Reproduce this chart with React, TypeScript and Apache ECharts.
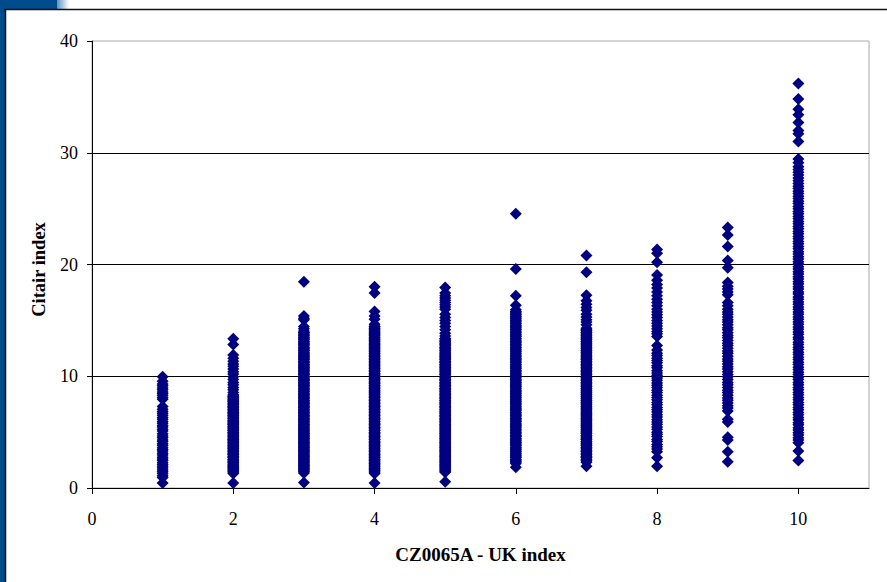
import React, { useEffect, useRef } from "react";
import * as echarts from "echarts";

const xTicks = [0, 2, 4, 6, 8, 10];
const xAxisTitle = "CZ0065A - UK index";
const yAxisTitle = "Citair index";

const col1 = [0.45,0.95,1.1,1.3,1.45,1.6,1.8,1.95,2.1,2.25,2.45,2.6,2.75,2.95,3.1,3.3,3.45,3.6,3.8,3.95,4.15,4.3,4.5,4.65,4.85,5.1,5.25,5.45,5.6,5.8,5.95,6.15,6.3,6.5,6.7,6.85,7.05,7.3,7.95,8.1,8.3,8.45,8.6,8.8,8.95,9.15,9.3,9.55,9.95];
const col2 = [0.45,1.3,1.4,1.55,1.7,1.85,1.95,2.1,2.3,2.4,2.55,2.7,2.85,3,3.1,3.25,3.4,3.55,3.7,3.8,3.95,4.1,4.25,4.35,4.5,4.65,4.8,4.95,5.1,5.2,5.35,5.5,5.65,5.8,5.9,6.05,6.2,6.35,6.5,6.65,6.75,6.9,7.05,7.2,7.3,7.45,7.6,7.75,7.9,8.05,8.2,8.35,8.55,8.8,9,9.25,9.45,9.7,9.95,10.2,10.4,10.65,10.9,11.1,11.35,11.6,11.9,12.85,13.35];
const col3 = [0.5,1.35,1.45,1.6,1.7,1.85,2,2.1,2.25,2.4,2.5,2.65,2.8,2.9,3.05,3.2,3.3,3.45,3.6,3.7,3.85,4,4.1,4.25,4.4,4.5,4.65,4.8,4.9,5.05,5.2,5.3,5.45,5.6,5.7,5.85,6,6.1,6.25,6.4,6.5,6.65,6.8,6.9,7.05,7.2,7.3,7.45,7.6,7.7,7.85,8,8.1,8.25,8.4,8.5,8.65,8.8,8.9,9.05,9.2,9.3,9.45,9.6,9.7,9.85,10,10.15,10.3,10.45,10.6,10.75,10.9,11.05,11.2,11.35,11.5,11.65,11.8,11.95,12.1,12.3,12.45,12.6,12.8,12.95,13.1,13.3,13.5,13.7,13.9,14.05,14.25,14.45,15.05,15.2,15.4,18.45];
const col4 = [0.45,1.3,1.4,1.55,1.7,1.8,1.95,2.1,2.2,2.35,2.5,2.6,2.75,2.9,3,3.15,3.3,3.4,3.55,3.7,3.8,3.95,4.1,4.2,4.35,4.5,4.6,4.75,4.9,5,5.15,5.3,5.4,5.55,5.7,5.8,5.95,6.1,6.2,6.35,6.5,6.6,6.75,6.9,7,7.15,7.3,7.4,7.55,7.7,7.8,7.95,8.1,8.2,8.35,8.5,8.6,8.75,8.9,9,9.15,9.3,9.4,9.55,9.7,9.8,9.95,10.1,10.25,10.4,10.55,10.7,10.85,11,11.15,11.3,11.45,11.6,11.75,11.9,12.05,12.2,12.35,12.5,12.65,12.8,12.95,13.15,13.3,13.5,13.7,13.85,14.05,14.25,14.45,14.65,15.1,15.4,15.8,17.45,18];
const col5 = [0.55,1.4,1.55,1.7,1.85,2,2.1,2.25,2.4,2.5,2.65,2.8,2.9,3.05,3.2,3.3,3.45,3.6,3.7,3.85,4,4.1,4.25,4.4,4.5,4.65,4.8,4.9,5.05,5.2,5.3,5.45,5.6,5.7,5.85,6,6.1,6.25,6.4,6.5,6.65,6.8,6.9,7.05,7.2,7.3,7.45,7.6,7.7,7.85,8,8.1,8.25,8.4,8.5,8.65,8.8,8.9,9.05,9.2,9.3,9.45,9.6,9.7,9.85,10,10.15,10.3,10.45,10.6,10.75,10.9,11.05,11.2,11.35,11.5,11.65,11.8,11.95,12.1,12.3,12.45,12.6,12.8,12.95,13.15,13.35,13.6,13.85,14.15,14.45,14.75,15,15.25,15.55,16,16.2,16.4,16.6,16.8,17,17.2,17.45,17.95];
const col6 = [1.85,2.2,2.4,2.55,2.75,2.9,3.1,3.25,3.45,3.6,3.8,3.95,4.1,4.25,4.45,4.6,4.75,4.95,5.1,5.25,5.45,5.6,5.75,5.95,6.1,6.25,6.45,6.6,6.75,6.95,7.1,7.25,7.45,7.6,7.75,7.95,8.1,8.25,8.45,8.6,8.75,8.95,9.1,9.25,9.45,9.6,9.75,9.95,10.1,10.3,10.5,10.7,10.85,11.05,11.25,11.45,11.6,11.8,12,12.2,12.4,12.6,12.8,13,13.15,13.35,13.55,13.75,13.95,14.15,14.35,14.55,14.75,14.95,15.15,15.35,15.55,15.75,15.95,16.35,17.2,19.6,24.55];
const col7 = [1.95,2.3,2.5,2.7,2.85,3.05,3.25,3.4,3.6,3.8,3.95,4.15,4.35,4.5,4.7,4.9,5.05,5.25,5.45,5.6,5.8,6,6.15,6.35,6.55,6.7,6.9,7.1,7.25,7.45,7.65,7.8,8,8.2,8.35,8.55,8.75,8.9,9.1,9.3,9.45,9.65,9.85,10,10.2,10.4,10.55,10.75,10.95,11.1,11.3,11.5,11.7,11.9,12.1,12.3,12.5,12.7,12.9,13.1,13.3,13.5,13.7,13.9,14.1,14.3,14.6,14.85,15.05,15.3,15.55,15.9,16.15,16.45,16.75,17.25,19.3,20.8];
const col8 = [1.95,2.7,3.25,3.5,3.7,3.9,4.15,4.35,4.6,4.8,5,5.25,5.45,5.7,5.9,6.1,6.35,6.55,6.8,7,7.2,7.45,7.65,7.9,8.1,8.3,8.55,8.75,9,9.2,9.4,9.65,9.85,10.1,10.3,10.5,10.75,10.95,11.2,11.4,11.6,11.85,12.05,12.35,12.75,13.55,13.8,14,14.25,14.5,14.75,15,15.25,15.5,15.75,16,16.3,16.6,16.9,17.2,17.55,17.9,18.2,18.6,19.05,20.2,21,21.35];
const col9 = [2.35,3.25,4.3,4.55,5.9,6.15,6.9,7.15,7.35,7.6,7.85,8.05,8.3,8.55,8.75,9,9.25,9.45,9.7,9.95,10.15,10.4,10.65,10.85,11.1,11.35,11.55,11.8,12.05,12.25,12.5,12.75,12.95,13.2,13.45,13.65,13.9,14.15,14.35,14.6,14.85,15.05,15.3,15.55,15.75,16,16.3,16.6,17.3,17.55,17.8,18.05,18.4,19.7,20.35,21.6,22.65,23.3];
const col10 = [2.45,3.3,4.05,4.3,4.5,4.75,4.95,5.2,5.4,5.65,5.85,6.1,6.3,6.55,6.75,7,7.2,7.45,7.65,7.9,8.1,8.35,8.55,8.8,9,9.25,9.45,9.7,9.9,10.15,10.35,10.6,10.8,11.05,11.25,11.5,11.7,11.95,12.15,12.4,12.6,12.85,13.05,13.3,13.5,13.75,13.95,14.2,14.4,14.65,14.85,15.1,15.3,15.55,15.75,16,16.2,16.45,16.65,16.9,17.1,17.35,17.55,17.8,18,18.25,18.45,18.7,18.9,19.15,19.35,19.6,19.8,20.05,20.25,20.5,20.7,20.95,21.15,21.4,21.6,21.85,22.05,22.3,22.5,22.75,22.95,23.2,23.4,23.65,23.85,24.1,24.3,24.55,24.75,25,25.2,25.45,25.65,25.9,26.1,26.35,26.55,26.8,27,27.25,27.5,27.75,28,28.25,28.5,28.75,29.1,29.45,31,31.7,32,32.7,33.4,33.9,34.8,36.2];

// Extra readings inside the solid part of the columns, where single marks merge.
const solidBand = [1.5,1.63,1.77,1.9,2.04,2.17,2.31,2.44,2.58,2.72,2.85,2.98,3.12,3.26,3.38,3.52,3.65,3.79,3.92,4.06,4.19,4.33,4.46,4.6,4.73,4.87,5,5.14,5.27,5.41,5.54,5.68,5.81,5.95,6.08,6.22,6.35,6.49,6.62,6.76,6.89,7.03,7.16,7.3,7.43,7.57,7.7,7.84,7.97,8.11,8.24,8.38,8.51,8.65,8.78,8.92,9.05,9.19,9.32,9.46,9.59,9.73,9.86,10,10.13,10.27,10.4,10.54,10.67,10.81,10.94,11.08,11.21,11.35,11.48,11.62,11.75,11.89,12.02,12.16,12.29,12.43,12.56,12.7,12.83,12.97,13.1,13.24,13.37,13.51,13.64,13.78,13.91,14.05,14.18,14.32,14.45,14.59,14.72,14.86,14.99,15.13,15.26,15.4,15.53,15.67,15.8];
const solidRanges: (number[] | null)[] = [null, [1.4, 8.3], [1.4, 14], [1.4, 14.5], [1.5, 13.5], [2.3, 15.8], [2.4, 14.2], null, null, null];

const columns = [col1, col2, col3, col4, col5, col6, col7, col8, col9, col10];

export default function App() {
  const ref = useRef<HTMLDivElement>(null);
  useEffect(() => {
    document.body.style.margin = "0";
    const chart = echarts.init(ref.current!, undefined, { renderer: "svg" });
    const points: number[][] = [];
    columns.forEach((col, i) => {
      col.forEach((v) => points.push([i + 1, v]));
      const range = solidRanges[i];
      if (range) {
        solidBand.filter((v) => v >= range[0] && v <= range[1]).forEach((v) => points.push([i + 1, v]));
      }
    });
    const serif = "'Liberation Serif', 'Times New Roman', serif";
    chart.setOption({
      animation: false,
      backgroundColor: "#ffffff",
      grid: {
        left: 92,
        top: 41,
        width: 777,
        height: 447,
        show: true,
        borderColor: "#a8a8a8",
        borderWidth: 1,
        backgroundColor: "#ffffff",
      },
      xAxis: {
        type: "value",
        min: 0,
        max: 11,
        interval: 2,
        name: xAxisTitle,
        nameLocation: "middle",
        nameGap: 57,
        nameTextStyle: { fontFamily: serif, fontWeight: "bold", fontSize: 19, color: "#000" },
        axisLine: { show: true, onZero: false, lineStyle: { color: "#000", width: 1 } },
        axisTick: { show: true, length: 6, customValues: xTicks, lineStyle: { color: "#000" } },
        axisLabel: { customValues: xTicks, margin: 22, fontFamily: serif, fontSize: 18, color: "#000" },
        splitLine: { show: false },
      },
      yAxis: {
        type: "value",
        min: 0,
        max: 40,
        interval: 10,
        name: yAxisTitle,
        nameLocation: "middle",
        nameGap: 44,
        nameTextStyle: { fontFamily: serif, fontWeight: "bold", fontSize: 18.5, color: "#000", padding: [0, 10, 0, 0] },
        axisLine: { show: true, lineStyle: { color: "#000", width: 1 } },
        axisTick: { show: true, length: 5, lineStyle: { color: "#000" } },
        axisLabel: { margin: 14, fontFamily: serif, fontSize: 18, color: "#000" },
        splitLine: { show: true, showMinLine: false, showMaxLine: false, lineStyle: { color: "#000", width: 1 } },
      },
      series: [
        {
          type: "scatter",
          data: points,
          symbol: "diamond",
          symbolSize: 12,
          itemStyle: { color: "#000080", opacity: 1 },
          clip: false,
        },
      ],
      graphic: [
        { type: "rect", z: 0, shape: { x: 0, y: 0, width: 5, height: 582 }, style: { fill: "#004b8d" } },
        { type: "rect", z: 0, shape: { x: 0, y: 0, width: 57, height: 9 }, style: { fill: "#004b8d" } },
        {
          type: "rect",
          z: 0,
          shape: { x: 57, y: 0, width: 12, height: 9 },
          style: {
            fill: new echarts.graphic.LinearGradient(0, 0, 1, 0, [
              { offset: 0, color: "#5f94c0" },
              { offset: 1, color: "#ffffff" },
            ]),
          },
        },
        { type: "line", z: 1, shape: { x1: 4, y1: 9.5, x2: 887, y2: 9.5 }, style: { stroke: "#111", lineWidth: 1.5 } },
        { type: "line", z: 1, shape: { x1: 5.5, y1: 9, x2: 5.5, y2: 582 }, style: { stroke: "#111", lineWidth: 1.5 } },
      ],
    });
    return () => chart.dispose();
  }, []);
  return <div ref={ref} style={{ width: 887, height: 582 }} />;
}
